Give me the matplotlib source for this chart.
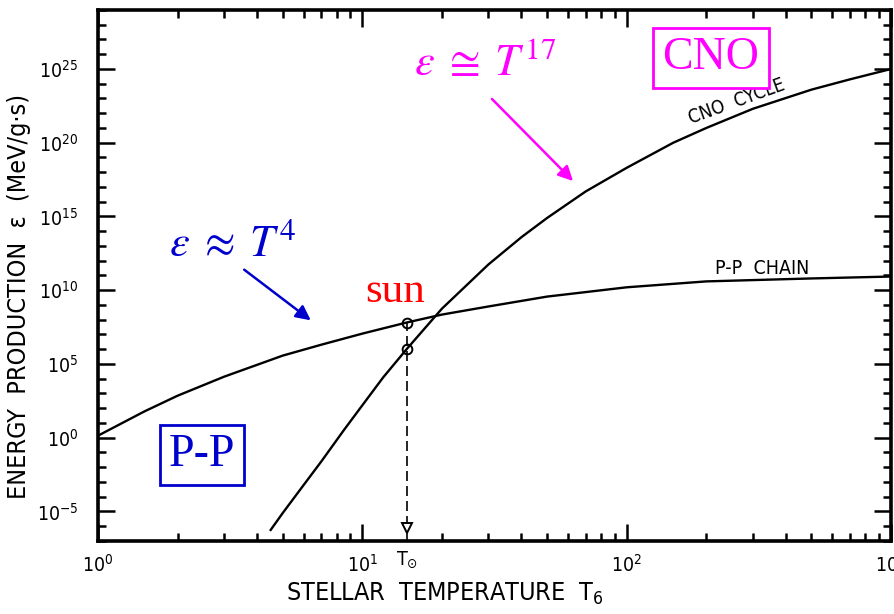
import numpy as np
import matplotlib.pyplot as plt
import matplotlib.transforms as mtransforms

# ---------------------------
# data
# ---------------------------
# temperature in units of 10^6 K, log10 of energy production
T_pp = [1, 1.5, 2, 3, 5, 7, 10, 14.7, 20, 30, 50, 100, 200, 500, 1000]
logeps_pp = [0.14, 1.79, 2.85, 4.14, 5.57, 6.31, 7.06, 7.81, 8.35, 8.9, 9.57,
             10.2, 10.6, 10.8, 10.93]

T_cno = [4.5, 5, 6, 7, 8.5, 10, 12, 14.7, 20, 30, 40, 50, 70, 100, 150, 200, 300,
         500, 700, 1000]
logeps_cno = [-6.25, -5.1, -3.2, -1.6, 0.5, 2.2, 4.1, 6.0, 8.75, 11.75, 13.6, 14.9,
              16.7, 18.3, 20.0, 21.0, 22.3, 23.6, 24.3, 25.0]

T_sun = 14.7
logeps_sun = [7.81, 6.0]  # p-p and CNO at the sun

W, H = 895, 614
plt.rcParams['font.family'] = ['DejaVu Sans']
plt.rcParams['font.stretch'] = 'condensed'


def fig_xy(x, y):
    # image pixel (top-left origin) -> figure fraction
    return x / W, 1 - y / H


fig = plt.figure(figsize=(W / 100, H / 100), dpi=100)
ax = fig.add_axes([98 / W, 1 - 541 / H, (891 - 98) / W, (541 - 10) / H])

ax.plot(T_pp, 10 ** np.array(logeps_pp), color='black', lw=1.7)
ax.plot(T_cno, 10 ** np.array(logeps_cno), color='black', lw=1.7)

# sun markers and dashed drop line
eps_sun = 10 ** np.array(logeps_sun)
ax.vlines(T_sun, 1e-7, eps_sun[0], colors='black', linestyles=(0, (6, 3)), lw=1.2)
ax.plot([T_sun, T_sun], eps_sun, 'o', mfc='none', mec='black', ms=7, mew=1.4)
trans = mtransforms.blended_transform_factory(ax.transData, ax.transAxes)
ax.plot([T_sun], [0.025], 'v', mfc='white', mec='black', ms=7, mew=1.4,
        transform=trans, clip_on=False)

ax.set_xscale('log')
ax.set_yscale('log')
ax.set_xlim(1, 1000)
ax.set_ylim(1e-7, 1e29)
ax.set_yticks([10.0 ** k for k in range(-5, 30, 5)])
ax.set_yticks([10.0 ** k for k in range(-7, 30)], minor=True)
ax.yaxis.set_minor_formatter(plt.NullFormatter())

ax.tick_params(which='both', direction='in', top=True, right=True, width=1.8,
               labelsize=14, colors='black')
ax.tick_params(which='major', length=12)
ax.tick_params(axis='y', which='major', pad=14)
ax.tick_params(axis='x', which='major', pad=9)
ax.tick_params(which='minor', length=6)
for s in ax.spines.values():
    s.set_linewidth(2.6)

ax.set_xlabel(r'STELLAR  TEMPERATURE  T$_\mathdefault{6}$', fontsize=18, labelpad=5)
ax.xaxis.set_label_coords(0.437, -0.075)
ax.set_ylabel(r'ENERGY  PRODUCTION  ε  (MeV/g·s)', fontsize=18, labelpad=5)
ax.yaxis.set_label_coords(-0.085, 0.46)

# T_sun label under the axis
ax.text(T_sun, -0.016, r'T$_{\odot}$', transform=trans, ha='center', va='top', fontsize=14)

# curve labels in the original lettering
ax.text(*fig_xy(737, 102), 'CNO  CYCLE', transform=fig.transFigure, rotation=20,
        ha='center', va='center', fontsize=13.5)
ax.text(*fig_xy(762, 269), 'P-P  CHAIN', transform=fig.transFigure,
        ha='center', va='center', fontsize=14)

# overlay annotations
serif = ['Liberation Serif', 'DejaVu Serif']
magenta = '#ff00ff'
blue = '#0000cc'

fig.text(*fig_xy(711, 58), 'CNO', family=serif, fontsize=33, color=magenta,
         ha='center', va='center',
         bbox=dict(boxstyle='square,pad=0.2', fc='white', ec=magenta, lw=2))
fig.text(*fig_xy(202, 455), 'P-P', family=serif, fontsize=33, color=blue,
         ha='center', va='center',
         bbox=dict(boxstyle='square,pad=0.2', fc='white', ec=blue, lw=2))
fig.text(*fig_xy(395, 292), 'sun', family=serif, fontsize=31, color='red',
         ha='center', va='center')

fig.text(*fig_xy(233, 243), r'$\varepsilon\;\approx\;T^4$', math_fontfamily='stix',
         fontsize=32, color=blue, ha='center', va='center')
fig.text(*fig_xy(485, 63), r'$\varepsilon\;\cong\;T^{17}$', math_fontfamily='stix',
         fontsize=32, color=magenta, ha='center', va='center')

ax.annotate('', xy=fig_xy(313, 322), xytext=fig_xy(242, 268),
            xycoords='figure fraction', textcoords='figure fraction',
            arrowprops=dict(arrowstyle='-|>', color=blue, lw=1.8, mutation_scale=22))
ax.annotate('', xy=fig_xy(575, 183), xytext=fig_xy(490, 97),
            xycoords='figure fraction', textcoords='figure fraction',
            arrowprops=dict(arrowstyle='-|>', color=magenta, lw=1.8, mutation_scale=22))

fig.savefig('out.png', dpi=100)
